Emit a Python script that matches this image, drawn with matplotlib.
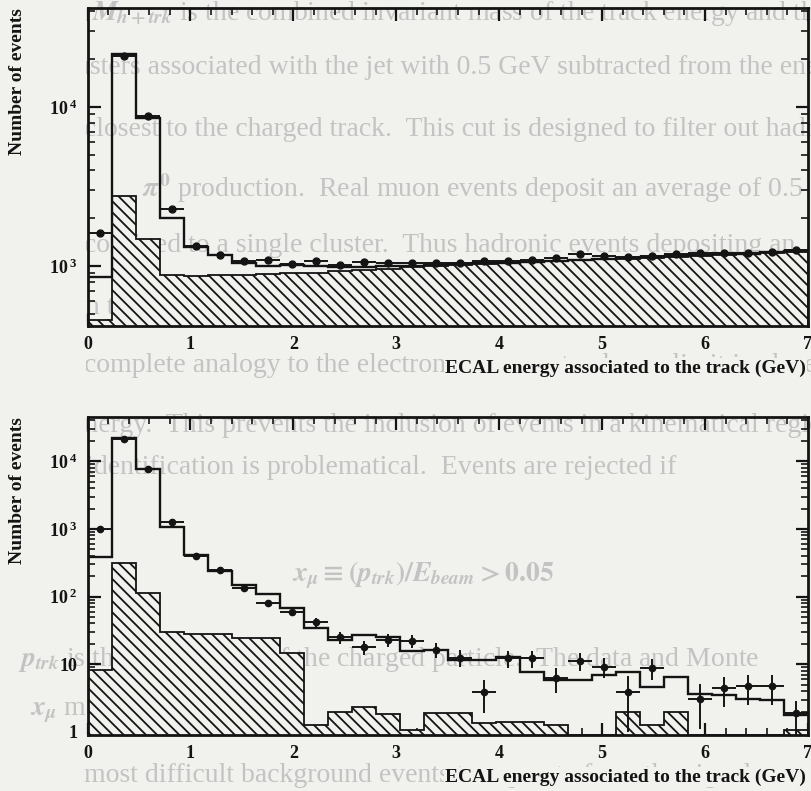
import numpy as np
import matplotlib
matplotlib.use("Agg")
import matplotlib.pyplot as plt
from matplotlib.ticker import LogLocator, NullFormatter, MultipleLocator
from matplotlib.transforms import Bbox, TransformedBbox

# 30 bins of ECAL energy between 0 and 7 GeV
n_bins = 30
e_lo, e_hi = 0.0, 7.0

# upper plot: data, total Monte Carlo, background (hatched)
top_data = [1610, 21000, 8800, 2270, 1330, 1170, 1070, 1090, 1030, 1070,
            1020, 1060, 1040, 1040, 1050, 1050, 1070, 1080, 1090, 1120,
            1190, 1150, 1140, 1160, 1190, 1206, 1206, 1210, 1230, 1264]
top_mc = [855, 21500, 8540, 2000, 1310, 1170, 1045, 1000, 1010, 1000,
          990, 985, 995, 1005, 1015, 1025, 1040, 1050, 1065, 1080,
          1100, 1115, 1125, 1140, 1155, 1170, 1185, 1200, 1220, 1245]
top_bkg = [460, 2770, 1475, 880, 870, 875, 880, 890, 900, 910,
           925, 945, 965, 985, 1005, 1020, 1035, 1050, 1065, 1080,
           1095, 1105, 1115, 1130, 1145, 1160, 1175, 1190, 1210, 1235]

# lower plot
bot_data = [1000, 21000, 7800, 1270, 400, 245, 132, 79, 60, 42,
            25, 18, 23, 22, 16.5, 12.5, 3.9, 12.2, 12.3, 6.3,
            11.2, 9.2, 3.9, 8.9, np.nan, 3.1, 4.4, 4.7, 4.7, 1.9]
bot_err = [32, 145, 88, 36, 20, 16, 11.5, 9, 7.7, 6.5,
           5, 4.2, 4.8, 4.7, 4.1, 3.5, 2.0, 3.5, 3.5, 2.5,
           3.3, 3.0, 2.9, 3.0, np.nan, 2.0, 2.1, 2.2, 2.2, 1.0]
bot_mc = [387, 21700, 7790, 1070, 410, 240, 148, 109, 67, 34,
          23, 27, 25, 15.5, 16.5, 11.7, 11.7, 12.6, 7.7, 5.8,
          5.8, 6.9, 7.7, 4.65, 6.5, 3.6, 3.5, 3.1, 3.0, 1.8]
bot_bkg = [8.2, 309, 111, 30, 28, 27.5, 24, 24, 14.5, 1.26,
           2.0, 2.35, 1.85, 1.05, 1.9, 1.9, 1.34, 1.4, 1.4, 1.26,
           0, 0, 2.0, 1.26, 2.0, 0, 0, 0, 0, 1.05]

xlabel = "ECAL energy associated to the track (GeV)"
ylabel = "Number of events"

# faint page text behind the figure: (y px, x px, clip from x px, text)
page_rows = [
    (13, 62, 86, r"of $M_{h+trk}$ is the combined invariant mass of the track energy and the"),
    (67, 56, 86, "clusters associated with the jet with 0.5 GeV subtracted from the energy of"),
    (130, 84, 86, "closest to the charged track.  This cut is designed to filter out hadronic"),
    (188, 142, 86, r"$\pi^0$ production.  Real muon events deposit an average of 0.5 GeV"),
    (245, 84, 86, "confined to a single cluster.  Thus hadronic events depositing an"),
    (307, 78, 86, "in the ECAL are rejected."),
    (365, 84, 86, "complete analogy to the electron energy cut, a lower limit is placed on the"),
    (426, 72, 86, "energy.  This prevents the inclusion of events in a kinematical region"),
    (468, 86, 86, "identification is problematical.  Events are rejected if"),
    (575, 292, 86, r"$x_\mu \equiv (p_{trk})/E_{beam} > 0.05$"),
    (660, 18, 0, r"$p_{trk}$ is the momentum of the charged particle.  The data and Monte"),
    (710, 30, 0, r"$x_\mu$ may be"),
    (775, 84, 0, "most difficult background events to separate from the signal"),
]

plt.rcParams['font.family'] = 'Liberation Serif'
plt.rcParams['font.weight'] = 'bold'
plt.rcParams['mathtext.fontset'] = 'custom'
plt.rcParams['mathtext.rm'] = 'Liberation Serif:bold'
plt.rcParams['mathtext.bf'] = 'Liberation Serif:bold'
plt.rcParams['mathtext.it'] = 'Liberation Serif:italic:bold'
plt.rcParams['hatch.linewidth'] = 1.3
plt.rcParams['hatch.color'] = 'black'

W, H = 811, 791
paper = '#f1f2ee'
ink = '#141414'
fig = plt.figure(figsize=(W / 100, H / 100), dpi=100, facecolor=paper)

for y, x, xc, s in page_rows:
    t = fig.text(x / W, 1 - y / H, s, fontsize=20, fontweight='normal',
                 color='#c3c3c3', ha='left', va='center', zorder=-1,
                 math_fontfamily='stix')
    t.set_clip_box(TransformedBbox(Bbox([[xc / W, 0], [1, 1]]), fig.transFigure))
    t.set_clip_on(True)

edges = np.linspace(e_lo, e_hi, n_bins + 1)
centers = 0.5 * (edges[:-1] + edges[1:])
half = np.diff(edges) / 2


def panel(top_px, bot_px, data, err, mc, bkg, ylim, yticks, ylabels, ms):
    ax = fig.add_axes([87.5 / W, 1 - bot_px / H, 720.5 / W, (bot_px - top_px) / H])
    ax.set_facecolor('none')
    ax.set_yscale('log')
    bkg = np.asarray(bkg, dtype=float)
    ax.stairs(np.where(bkg > 0, bkg, ylim[0]), edges, baseline=ylim[0], fill=True,
              facecolor=paper, edgecolor=ink, hatch='\\\\\\', lw=1.3, zorder=2)
    ax.stairs(mc, edges, baseline=None, color=ink, lw=1.7, zorder=3)
    ax.errorbar(centers, data, xerr=half, yerr=err, fmt='o', color=ink, ms=ms,
                elinewidth=1.4, capsize=0, zorder=4)
    ax.set_xlim(e_lo, e_hi)
    ax.set_ylim(*ylim)
    ax.set_xticks(range(8))
    ax.xaxis.set_minor_locator(MultipleLocator(0.2))
    ax.set_yticks(yticks, ylabels)
    ax.yaxis.set_minor_locator(LogLocator(base=10, subs=np.arange(2, 10)))
    ax.yaxis.set_minor_formatter(NullFormatter())
    ax.tick_params(which='major', direction='in', length=9, width=1.6,
                   top=True, right=True, labelsize=13, pad=7, colors=ink)
    ax.tick_params(which='minor', direction='in', length=5, width=1.2,
                   top=True, right=True, colors=ink)
    for sp in ax.spines.values():
        sp.set_linewidth(2.0)
        sp.set_color(ink)
    fig.text(18 / W, 1 - top_px / H, ylabel, rotation=90, ha='center', va='top',
             fontsize=14, color=ink)
    fig.text(806 / W, 1 - (bot_px + 42) / H, xlabel, ha='right', va='center',
             fontsize=14, color=ink, zorder=5,
             bbox=dict(facecolor=paper, edgecolor='none', pad=1))
    return ax


exp_labels = [r'$\mathbf{10^{\;%d}}$' % k for k in range(5)]
panel(8, 326, top_data, None, top_mc, top_bkg, (420, 42000),
      [1e3, 1e4], exp_labels[3:], 5)
panel(417, 735, bot_data, bot_err, bot_mc, bot_bkg, (0.9, 45000),
      [1, 10, 100, 1e3, 1e4], ['1', '10'] + exp_labels[2:], 4.5)

fig.savefig('out.png', dpi=100, facecolor=paper)
